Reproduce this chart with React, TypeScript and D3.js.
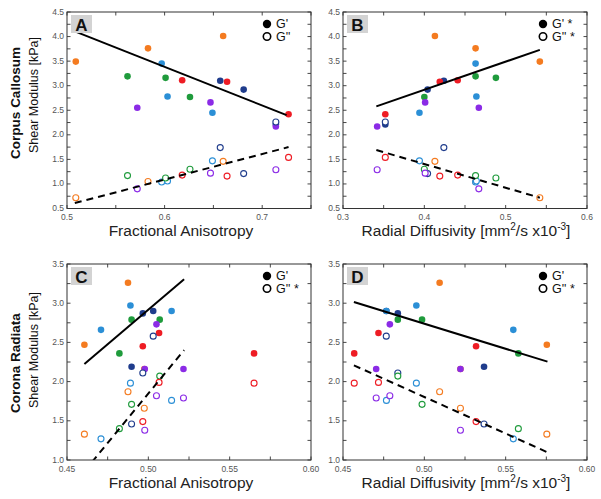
import { useEffect, useRef } from 'react';
import * as d3 from 'd3';

// group colours, in drawing order
const groupColors = ['#f47b20', '#1f3c8c', '#2b8fd6', '#1f9b3c', '#ee1c24', '#8b2be6'];

// Corpus Callosum subjects
const ccGroup = [0, 0, 0, 1, 1, 1, 2, 2, 2, 3, 3, 3, 4, 4, 4, 5, 5, 5];
const ccFA = [0.509, 0.583, 0.660, 0.657, 0.681, 0.714, 0.597, 0.603, 0.649, 0.562, 0.601, 0.626, 0.618, 0.664, 0.727, 0.572, 0.647, 0.714];
const ccRD = [0.542, 0.463, 0.413, 0.424, 0.404, 0.352, 0.463, 0.464, 0.394, 0.463, 0.488, 0.400, 0.441, 0.419, 0.352, 0.467, 0.401, 0.342];
const ccStorage = [3.49, 3.76, 4.01, 3.10, 2.92, 2.21, 3.45, 2.78, 2.45, 3.19, 3.16, 2.77, 3.11, 3.08, 2.42, 2.55, 2.66, 2.17];
const ccLoss = [0.72, 1.05, 1.46, 1.74, 1.21, 2.26, 1.04, 1.06, 1.47, 1.17, 1.12, 1.30, 1.18, 1.16, 1.54, 0.90, 1.22, 1.29];

// Corona Radiata subjects
const crGroup = [0, 0, 0, 1, 1, 1, 2, 2, 2, 3, 3, 3, 4, 4, 4, 5, 5, 5];
const crFA = [0.4875, 0.4607, 0.4975, 0.4966, 0.503, 0.4897, 0.489, 0.5143, 0.4709, 0.4897, 0.507, 0.4822, 0.5066, 0.4966, 0.565, 0.505, 0.4978, 0.5216];
const crRD = [0.5094, 0.5753, 0.5222, 0.4837, 0.4766, 0.5367, 0.4951, 0.4767, 0.5547, 0.4986, 0.4837, 0.5578, 0.4718, 0.5318, 0.4569, 0.4788, 0.5222, 0.4704];
const crStorage = [3.26, 2.47, 2.16, 2.87, 2.90, 2.19, 2.97, 2.90, 2.66, 2.79, 2.79, 2.36, 2.62, 2.45, 2.36, 2.73, 2.16, 2.16];
const crLoss = [1.87, 1.33, 1.66, 2.11, 2.58, 1.46, 1.98, 1.76, 1.27, 1.71, 2.07, 1.40, 1.99, 1.49, 1.98, 1.82, 1.38, 1.79];

// fitted lines: [x start, x end, slope, intercept]
const fitA = [[0.510, 0.725, -7.86, 8.099], [0.508, 0.727, 5.205, -2.034]];
const fitB = [[0.341, 0.542, 5.72, 0.629], [0.341, 0.542, -4.826, 3.336]];
const fitC = [[0.4607, 0.522, 17.62, -5.893], [0.4607, 0.522, 25.22, -10.762]];
const fitD = [[0.4567, 0.5757, -6.395, 5.936], [0.4567, 0.5757, -9.319, 6.463]];

// axes
const faDomainCC = [0.5, 0.75];
const rdDomainCC = [0.3, 0.6];
const domainCR = [0.45, 0.6];
const yDomainCC = [0.5, 4.5];
const yDomainCR = [1.0, 3.5];
const xTicksA = [0.5, 0.6, 0.7];
const xTicksB = [0.3, 0.4, 0.5, 0.6];
const xTicksCR = [0.45, 0.5, 0.55, 0.6];
const yTicksCC = [0.5, 1.0, 1.5, 2.0, 2.5, 3.0, 3.5, 4.0, 4.5];
const yTicksCR = [1.0, 1.5, 2.0, 2.5, 3.0, 3.5];

const panelLetters = ['A', 'B', 'C', 'D'];
const legendStorage = ["G'", "G' *", "G'", "G'"];
const legendLoss = ["G''", "G'' *", "G'' *", "G'' *"];
const rowTitles = ['Corpus Callosum', 'Corona Radiata'];

const FONT = 'Arial, "Liberation Sans", Helvetica, sans-serif';

export default function App() {
  const svgRef = useRef<SVGSVGElement>(null);

  useEffect(() => {
    if (!svgRef.current) return;
    const svg = d3.select(svgRef.current);
    svg.selectAll('*').remove();

    const cols = [[67, 311], [343, 587]];
    const rows = [[12, 208.5], [264, 460]];

    const panels = [
      { col: 0, row: 0, xd: faDomainCC, yd: yDomainCC, xt: xTicksA, xminor: 0.05, yt: yTicksCC, x: ccFA, g: ccGroup, s: ccStorage, l: ccLoss, fit: fitA, fmt: '.1f', title: 'fa' },
      { col: 1, row: 0, xd: rdDomainCC, yd: yDomainCC, xt: xTicksB, xminor: 0.05, yt: yTicksCC, x: ccRD, g: ccGroup, s: ccStorage, l: ccLoss, fit: fitB, fmt: '.1f', title: 'rd' },
      { col: 0, row: 1, xd: domainCR, yd: yDomainCR, xt: xTicksCR, xminor: 0.025, yt: yTicksCR, x: crFA, g: crGroup, s: crStorage, l: crLoss, fit: fitC, fmt: '.2f', title: 'fa' },
      { col: 1, row: 1, xd: domainCR, yd: yDomainCR, xt: xTicksCR, xminor: 0.025, yt: yTicksCR, x: crRD, g: crGroup, s: crStorage, l: crLoss, fit: fitD, fmt: '.2f', title: 'rd' },
    ];

    panels.forEach((p, i) => {
      const [x0, x1] = cols[p.col];
      const [y0, y1] = rows[p.row];
      const x = d3.scaleLinear().domain(p.xd).range([x0, x1]);
      const y = d3.scaleLinear().domain(p.yd).range([y1, y0]);
      const g = svg.append('g');

      const clipId = `clip${i}`;
      g.append('clipPath').attr('id', clipId)
        .append('rect').attr('x', x0).attr('y', y0).attr('width', x1 - x0).attr('height', y1 - y0);

      // ticks on all four sides, pointing in
      const tl = 3.5;
      const xAll = d3.range(p.xd[0], p.xd[1] + 1e-9, p.xminor);
      const yAll = d3.range(p.yd[0], p.yd[1] + 1e-9, 0.25);
      const tickG = g.append('g').attr('stroke', '#333').attr('stroke-width', 0.9);
      xAll.forEach((v) => {
        tickG.append('line').attr('x1', x(v)).attr('x2', x(v)).attr('y1', y1).attr('y2', y1 - tl);
        tickG.append('line').attr('x1', x(v)).attr('x2', x(v)).attr('y1', y0).attr('y2', y0 + tl);
      });
      yAll.forEach((v) => {
        tickG.append('line').attr('x1', x0).attr('x2', x0 + tl).attr('y1', y(v)).attr('y2', y(v));
        tickG.append('line').attr('x1', x1).attr('x2', x1 - tl).attr('y1', y(v)).attr('y2', y(v));
      });

      // tick labels
      p.xt.forEach((v) => {
        g.append('text').attr('x', x(v)).attr('y', y1 + 11.5)
          .attr('text-anchor', 'middle').attr('font-size', 8.5).attr('fill', '#555')
          .attr('font-family', FONT).text(d3.format(p.fmt)(v));
      });
      p.yt.forEach((v) => {
        g.append('text').attr('x', x0 - 3).attr('y', y(v) + 2.5)
          .attr('text-anchor', 'end').attr('font-size', 8.5).attr('fill', '#555')
          .attr('font-family', FONT).text(d3.format('.1f')(v));
      });

      // points: filled (G') then open (G'')
      const idx = d3.range(p.x.length);
      g.append('g').selectAll('circle').data(idx).join('circle')
        .attr('cx', (d) => x(p.x[d])).attr('cy', (d) => y(p.s[d])).attr('r', 3.3)
        .attr('fill', (d) => groupColors[p.g[d]]);
      g.append('g').selectAll('circle').data(idx).join('circle')
        .attr('cx', (d) => x(p.x[d])).attr('cy', (d) => y(p.l[d])).attr('r', 3)
        .attr('fill', '#fff').attr('stroke', (d) => groupColors[p.g[d]]).attr('stroke-width', 1.1);

      // fit lines
      p.fit.forEach((f, k) => {
        const [fa, fb, slope, icpt] = f;
        g.append('line').attr('clip-path', `url(#${clipId})`)
          .attr('x1', x(fa)).attr('y1', y(slope * fa + icpt))
          .attr('x2', x(fb)).attr('y2', y(slope * fb + icpt))
          .attr('stroke', '#000').attr('stroke-width', 2)
          .attr('stroke-dasharray', k === 1 ? '7,5' : null);
      });

      // frame
      g.append('rect').attr('x', x0).attr('y', y0).attr('width', x1 - x0).attr('height', y1 - y0)
        .attr('fill', 'none').attr('stroke', '#333').attr('stroke-width', 1);

      // panel letter
      g.append('rect').attr('x', x0 + 4).attr('y', y0 + 3).attr('width', 21).attr('height', 18)
        .attr('fill', '#d3d3d3');
      g.append('text').attr('x', x0 + 14.5).attr('y', y0 + 18.5).attr('text-anchor', 'middle')
        .attr('font-size', 17).attr('font-weight', 'bold').attr('font-family', FONT)
        .attr('fill', '#111').text(panelLetters[i]);

      // legend
      const lx = x1 - 44;
      g.append('circle').attr('cx', lx).attr('cy', y0 + 12).attr('r', 4.2).attr('fill', '#000');
      g.append('circle').attr('cx', lx).attr('cy', y0 + 24.5).attr('r', 3.7)
        .attr('fill', '#fff').attr('stroke', '#000').attr('stroke-width', 1.6);
      g.append('text').attr('x', lx + 9).attr('y', y0 + 16.3).attr('font-size', 12.5)
        .attr('font-family', FONT).attr('fill', '#111').text(legendStorage[i]);
      g.append('text').attr('x', lx + 9).attr('y', y0 + 28.8).attr('font-size', 12.5)
        .attr('font-family', FONT).attr('fill', '#111').text(legendLoss[i]);

      // axis title
      const tx = p.col === 0 ? 181 : 466;
      const t = g.append('text').attr('x', tx).attr('y', y1 + 27.5).attr('text-anchor', 'middle')
        .attr('font-size', 15.5).attr('font-family', FONT).attr('fill', '#222');
      if (p.title === 'fa') {
        t.text('Fractional Anisotropy');
      } else {
        t.append('tspan').text('Radial Diffusivity [mm');
        t.append('tspan').attr('font-size', 10).attr('dy', -6).text('2');
        t.append('tspan').attr('dy', 6).text('/s x10');
        t.append('tspan').attr('font-size', 10).attr('dy', -6).text('-3');
        t.append('tspan').attr('dy', 6).text(']');
      }
    });

    // row titles
    const rowCenters = [[103, 95], [363, 350]];
    rowTitles.forEach((name, r) => {
      const [c1, c2] = rowCenters[r];
      svg.append('text').attr('transform', `translate(20,${c1}) rotate(-90)`)
        .attr('text-anchor', 'middle').attr('font-size', 13.5).attr('font-weight', 'bold')
        .attr('font-family', FONT).attr('fill', '#111').text(name);
      svg.append('text').attr('transform', `translate(38,${c2}) rotate(-90)`)
        .attr('text-anchor', 'middle').attr('font-size', 12.5)
        .attr('font-family', FONT).attr('fill', '#111').text('Shear Modulus [kPa]');
    });
  }, []);

  return (
    <svg ref={svgRef} width={601} height={499}
      style={{ position: 'absolute', left: 0, top: 0, background: '#fff' }} />
  );
}
